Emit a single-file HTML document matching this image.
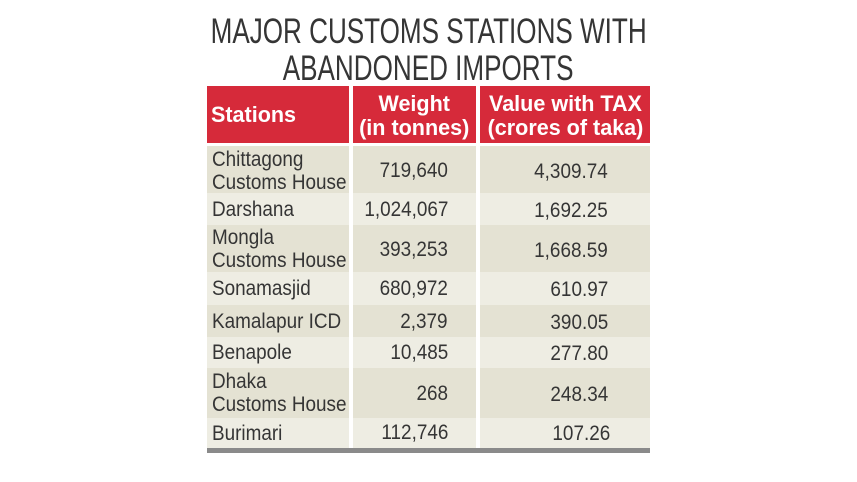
<!DOCTYPE html>
<html><head><style>
body{margin:0;width:857px;height:482px;background:#fff;position:relative;overflow:hidden;font-family:"Liberation Sans",sans-serif;}
.a{position:absolute;}
.t{position:absolute;white-space:nowrap;color:#353535;}
.t span{display:inline-block;transform:scaleX(0.9);}
.L span{transform-origin:0 0;}
.R{text-align:right;}
.R span{transform-origin:100% 0;}
.C{text-align:center;}
.C span{transform-origin:50% 0;}
.r{position:absolute;left:207px;width:443px;}
.h{color:#fff;font-weight:bold;font-size:22px;line-height:24px;}
.h span{transform:scaleX(0.98);}
.d{font-size:21px;line-height:23px;}
</style></head><body>
<div class="t C" style="left:0;width:857px;top:13px;font-size:35px;line-height:37px;"><span style="transform:scaleX(0.745);">MAJOR CUSTOMS STATIONS WITH</span></div>
<div class="t C" style="left:0;width:857px;top:50px;font-size:35px;line-height:37px;"><span style="transform:scaleX(0.745);">ABANDONED IMPORTS</span></div>

<div class="r" style="top:86px;height:57px;background:#d62a3a;"></div>
<div class="r" style="top:143px;height:3px;background:#fff;"></div>
<div class="r" style="top:146px;height:47px;background:#e4e2d3;"></div>
<div class="r" style="top:193px;height:32px;background:#eeede3;"></div>
<div class="r" style="top:225px;height:47px;background:#e4e2d3;"></div>
<div class="r" style="top:272px;height:33px;background:#eeede3;"></div>
<div class="r" style="top:305px;height:32px;background:#e4e2d3;"></div>
<div class="r" style="top:337px;height:31px;background:#eeede3;"></div>
<div class="r" style="top:368px;height:50px;background:#e4e2d3;"></div>
<div class="r" style="top:418px;height:30px;background:#eeede3;"></div>
<div class="r" style="top:448px;height:5px;background:#8a8a8a;"></div>
<div class="a" style="left:349px;top:86px;width:4px;height:362px;background:#fff;"></div>
<div class="a" style="left:476px;top:86px;width:4px;height:362px;background:#fff;"></div>

<div class="t h L" style="left:211px;top:103px;"><span>Stations</span></div>
<div class="t h C" style="left:353px;width:123px;top:92px;"><span>Weight<br>(in tonnes)</span></div>
<div class="t h C" style="left:480px;width:170px;top:92px;"><span>Value with TAX<br>(crores of taka)</span></div>

<div class="t d L" style="left:212px;top:148px;"><span>Chittagong<br>Customs House</span></div>
<div class="t d L" style="left:212px;top:198px;"><span>Darshana</span></div>
<div class="t d L" style="left:212px;top:226px;"><span>Mongla<br>Customs House</span></div>
<div class="t d L" style="left:212px;top:277px;"><span>Sonamasjid</span></div>
<div class="t d L" style="left:212px;top:310px;"><span>Kamalapur ICD</span></div>
<div class="t d L" style="left:212px;top:341px;"><span>Benapole</span></div>
<div class="t d L" style="left:212px;top:370px;"><span>Dhaka<br>Customs House</span></div>
<div class="t d L" style="left:212px;top:422px;"><span>Burimari</span></div>

<div class="t d R" style="left:353px;width:95px;top:159px;"><span>719,640</span></div>
<div class="t d R" style="left:353px;width:95px;top:198px;"><span>1,024,067</span></div>
<div class="t d R" style="left:353px;width:95px;top:238px;"><span>393,253</span></div>
<div class="t d R" style="left:353px;width:95px;top:277px;"><span>680,972</span></div>
<div class="t d R" style="left:353px;width:95px;top:310px;"><span>2,379</span></div>
<div class="t d R" style="left:353px;width:95px;top:341px;"><span>10,485</span></div>
<div class="t d R" style="left:353px;width:95px;top:382px;"><span>268</span></div>
<div class="t d R" style="left:353px;width:95px;top:421px;"><span>112,746</span></div>

<div class="t d R" style="left:480px;width:128px;top:160px;"><span>4,309.74</span></div>
<div class="t d R" style="left:480px;width:128px;top:199px;"><span>1,692.25</span></div>
<div class="t d R" style="left:480px;width:128px;top:239px;"><span>1,668.59</span></div>
<div class="t d R" style="left:480px;width:128px;top:278px;"><span>610.97</span></div>
<div class="t d R" style="left:480px;width:128px;top:311px;"><span>390.05</span></div>
<div class="t d R" style="left:480px;width:128px;top:342px;"><span>277.80</span></div>
<div class="t d R" style="left:480px;width:128px;top:383px;"><span>248.34</span></div>
<div class="t d R" style="left:480px;width:130px;top:422px;"><span>107.26</span></div>
</body></html>
